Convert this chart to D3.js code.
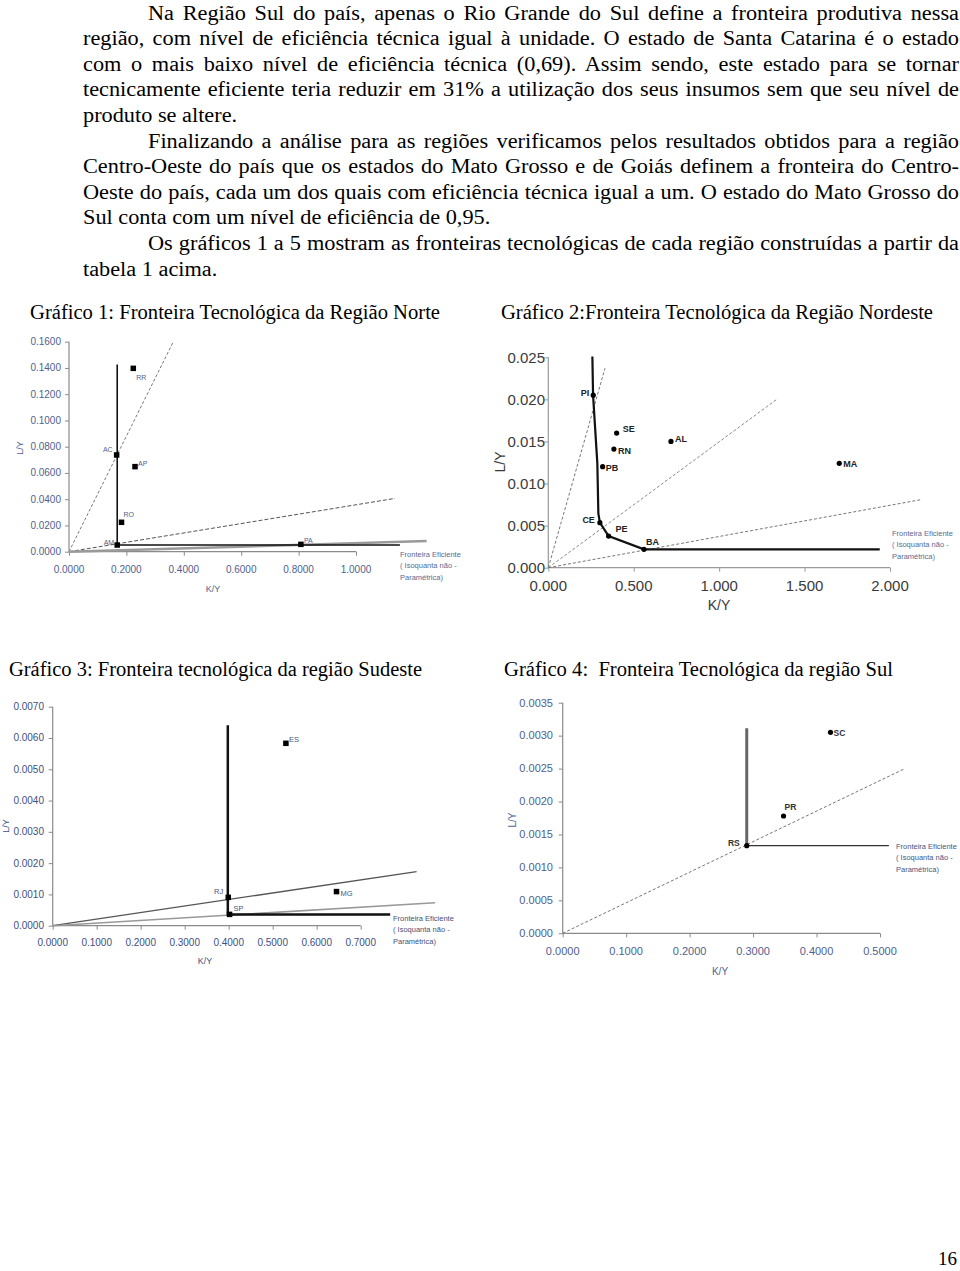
<!DOCTYPE html>
<html>
<head>
<meta charset="utf-8">
<script src="https://cdn.jsdelivr.net/npm/d3@7"></script>
<style>
  body { margin: 0; background: #fff; }
  svg { display: block; }
</style>
</head>
<body>
<svg id="page" width="960" height="1271"></svg>
<script>
// ---- texto da página ----
const paragraphLines = [
  "Na Região Sul do país, apenas o Rio Grande do Sul define a fronteira produtiva nessa",
  "região, com nível de eficiência técnica igual à unidade. O estado de Santa Catarina é o estado",
  "com o mais baixo nível de eficiência técnica (0,69). Assim sendo, este estado para se tornar",
  "tecnicamente eficiente teria reduzir em 31% a utilização dos seus insumos sem que seu nível de",
  "produto se altere.",
  "Finalizando a análise para as regiões verificamos pelos resultados obtidos para a região",
  "Centro-Oeste do país que os estados do Mato Grosso e de Goiás definem a fronteira do Centro-",
  "Oeste do país, cada um dos quais com eficiência técnica igual a um. O estado do Mato Grosso do",
  "Sul conta com um nível de eficiência de 0,95.",
  "Os gráficos 1 a 5 mostram as fronteiras tecnológicas de cada região construídas a partir da",
  "tabela 1 acima."
];
const lineIndent  = [1, 0, 0, 0, 0, 1, 0, 0, 0, 1, 0];
const lineJustify = [1, 1, 1, 1, 0, 1, 1, 1, 0, 1, 0];
const captions = [
  "Gráfico 1: Fronteira Tecnológica da Região Norte",
  "Gráfico 2:Fronteira Tecnológica da Região Nordeste",
  "Gráfico 3: Fronteira tecnológica da região Sudeste",
  "Gráfico 4:  Fronteira Tecnológica da região Sul"
];
const legendLines = ["Fronteira Eficiente", "( Isoquanta não -", "Paramétrica)"];
const pageNumber = "16";

// ---- Gráfico 1: Norte ----
const norteUF = ["RR", "AC", "AP", "RO", "AM", "PA"];
const norteKY = [0.224, 0.166, 0.230, 0.183, 0.168, 0.808];
const norteLY = [0.1397, 0.0737, 0.0648, 0.0224, 0.0051, 0.0056];
const norteFronteiraKY = [0.168, 0.168, 1.153];
const norteFronteiraLY = [0.1427, 0.0051, 0.0051];
const norteRaioKY = [0.3635, 1.136, 1.246];
const norteRaioLY = [0.16, 0.0406, 0.0081];
const norteTicksX = [0, 0.2, 0.4, 0.6, 0.8, 1.0];
const norteTicksY = [0, 0.02, 0.04, 0.06, 0.08, 0.10, 0.12, 0.14, 0.16];

// ---- Gráfico 2: Nordeste ----
const nordesteUF = ["PI", "SE", "RN", "PB", "AL", "MA", "CE", "PE", "BA"];
const nordesteKY = [0.263, 0.400, 0.384, 0.318, 0.718, 1.703, 0.302, 0.353, 0.560];
const nordesteLY = [0.0205, 0.0160, 0.0141, 0.0120, 0.0150, 0.0124, 0.00535, 0.00376, 0.00218];
const nordesteFronteiraKY = [0.258, 0.262, 0.287, 0.293, 0.302, 0.353, 0.560, 1.940];
const nordesteFronteiraLY = [0.0251, 0.0205, 0.0124, 0.00646, 0.00535, 0.00376, 0.00218, 0.00218];
const nordesteRaioKY = [0.332, 1.337, 2.185];
const nordesteRaioLY = [0.0237, 0.0200, 0.0081];
const nordesteTicksX = [0, 0.5, 1.0, 1.5, 2.0];
const nordesteTicksY = [0, 0.005, 0.010, 0.015, 0.020, 0.025];

// ---- Gráfico 3: Sudeste ----
const sudesteUF = ["ES", "RJ", "SP", "MG"];
const sudesteKY = [0.530, 0.399, 0.402, 0.645];
const sudesteLY = [0.00583, 0.000906, 0.000362, 0.00109];
const sudesteFronteiraKY = [0.398, 0.398, 0.767];
const sudesteFronteiraLY = [0.00641, 0.000362, 0.000362];
const sudesteRaioKY = [0.827, 0.869];
const sudesteRaioLY = [0.00173, 0.000735];
const sudesteTicksX = [0, 0.1, 0.2, 0.3, 0.4, 0.5, 0.6, 0.7];
const sudesteTicksY = [0, 0.001, 0.002, 0.003, 0.004, 0.005, 0.006, 0.007];

// ---- Gráfico 4: Sul ----
const sulUF = ["SC", "PR", "RS"];
const sulKY = [0.422, 0.348, 0.290];
const sulLY = [0.00305, 0.00178, 0.00133];
const sulFronteiraKY = [0.290, 0.290, 0.514];
const sulFronteiraLY = [0.00311, 0.00133, 0.00133];
const sulRaioKY = [0.537];
const sulRaioLY = [0.00249];
const sulTicksX = [0, 0.1, 0.2, 0.3, 0.4, 0.5];
const sulTicksY = [0, 0.0005, 0.001, 0.0015, 0.002, 0.0025, 0.003, 0.0035];

const svg = d3.select("#page");
svg.append("rect").attr("width", 960).attr("height", 1271).attr("fill", "#fff");

const serif = "'Liberation Serif', 'Times New Roman', serif";
const sansNarrow = "'Liberation Sans Narrow', 'Liberation Sans', Arial, sans-serif";

// ---- texto justificado (fonte levemente alargada como no original) ----
const textG = svg.append("g")
    .style("font-family", serif)
    .style("font-size", "20px")
    .attr("fill", "#000");
const sx = 1.115;

paragraphLines.forEach((line, i) => {
    const x0 = lineIndent[i] ? 148 : 83;
    const t = textG.append("text")
        .attr("transform", `translate(${x0},${19.5 + i * 25.6}) scale(${sx},1)`)
        .text(line);
    if (lineJustify[i]) {
        const natural = t.node().getComputedTextLength();
        const spaces = line.split(" ").length - 1;
        const ws = ((959 - x0) / sx - natural) / spaces;
        t.attr("word-spacing", ws);
    }
});

const charts = [
  {
    caption: captions[0], capX: 30, capY: 318.5, capW: 410,
    uf: norteUF, kx: norteKY, ly: norteLY,
    fk: norteFronteiraKY, fl: norteFronteiraLY,
    rk: norteRaioKY, rl: norteRaioLY,
    tx: norteTicksX, ty: norteTicksY, fmt: ".4f",
    xRange: [69, 356], yRange: [551.7, 341.7],
    xDomain: [0, 1.0], yDomain: [0, 0.16],
    tickFont: 10, tickColor: "#4f5f8f", axisColor: "#8a8a8a",
    xLabY: 569, yLabX: 61,
    lyPos: [20, 448], kyPos: [213, 589],
    legend: [400, 554], legendColor: "#5a6a94",
    marker: "square", markerSize: 5.5,
    ptFont: 7, ptColor: "#55608a", ptBold: false,
    labelOff: {RR: [3, 9, "start"], AC: [-4, -5, "end"], AP: [3, -3, "start"], RO: [2, -8, "start"], AM: [-3, -2, "end"], PA: [3, -4, "start"]},
    rayStyle: [["#7a7a7a", 1, "3,2"], ["#555", 1, "4,2"], ["#9a9a9a", 2.5, null]],
    frontW: 1.6, frontColor: "#111"
  },
  {
    caption: captions[1], capX: 501, capY: 318.5, capW: 432,
    uf: nordesteUF, kx: nordesteKY, ly: nordesteLY,
    fk: nordesteFronteiraKY, fl: nordesteFronteiraLY,
    rk: nordesteRaioKY, rl: nordesteRaioLY,
    tx: nordesteTicksX, ty: nordesteTicksY, fmt: ".3f",
    xRange: [548.3, 890], yRange: [567.7, 357.3],
    xDomain: [0, 2.0], yDomain: [0, 0.025],
    tickFont: 15, tickColor: "#3a3a3a", axisColor: "#9a9a9a",
    xLabY: 586, yLabX: 545,
    lyPos: [500, 462], kyPos: [719, 605],
    legend: [892, 533], legendColor: "#5a6a94",
    marker: "circle", markerSize: 2.6,
    ptFont: 9, ptColor: "#222", ptBold: true,
    labelOff: {PI: [-4, -2, "end"], SE: [6, -4, "start"], RN: [4, 2, "start"], PB: [3, 1, "start"], AL: [4, -3, "start"], MA: [4, 1, "start"], CE: [-5, -3, "end"], PE: [7, -7, "start"], BA: [2, -8, "start"]},
    rayStyle: [["#777", 1, "3,2"], ["#888", 1, "3,2"], ["#777", 1, "3,2"]],
    frontW: 2.2, frontColor: "#111"
  },
  {
    caption: captions[2], capX: 9, capY: 676, capW: 413,
    uf: sudesteUF, kx: sudesteKY, ly: sudesteLY,
    fk: sudesteFronteiraKY, fl: sudesteFronteiraLY,
    rk: sudesteRaioKY, rl: sudesteRaioLY,
    tx: sudesteTicksX, ty: sudesteTicksY, fmt: ".4f",
    xRange: [52.7, 360.7], yRange: [925.7, 706.7],
    xDomain: [0, 0.7], yDomain: [0, 0.007],
    tickFont: 10, tickColor: "#3f4f7f", axisColor: "#8a8a8a",
    xLabY: 942, yLabX: 44,
    lyPos: [6, 826], kyPos: [205, 961],
    legend: [393, 918], legendColor: "#44507a",
    marker: "square", markerSize: 5.5,
    ptFont: 7.5, ptColor: "#4a5580", ptBold: false,
    labelOff: {ES: [3, -4, "start"], RJ: [-5, -6, "end"], SP: [4, -6, "start"], MG: [4, 2, "start"]},
    rayStyle: [["#555", 1.3, null], ["#999", 1.6, null]],
    frontW: 2.5, frontColor: "#111"
  },
  {
    caption: captions[3], capX: 504, capY: 676, capW: 389,
    uf: sulUF, kx: sulKY, ly: sulLY,
    fk: sulFronteiraKY, fl: sulFronteiraLY,
    rk: sulRaioKY, rl: sulRaioLY,
    tx: sulTicksX, ty: sulTicksY, fmt: ".4f",
    xRange: [562.7, 880], yRange: [933.3, 702.7],
    xDomain: [0, 0.5], yDomain: [0, 0.0035],
    tickFont: 11, tickColor: "#4f5f8f", axisColor: "#8a8a8a",
    xLabY: 951, yLabX: 553,
    lyPos: [512, 820], kyPos: [720, 971],
    legend: [896, 846], legendColor: "#4a5580",
    marker: "circle", markerSize: 2.6,
    ptFont: 8.5, ptColor: "#333", ptBold: true,
    labelOff: {SC: [3, 1, "start"], PR: [1, -9, "start"], RS: [-7, -3, "end"]},
    rayStyle: [["#777", 1, "3,2"]],
    frontW: 1.2, frontColor: "#333"
  }
];

function drawChart(c) {
    const x = d3.scaleLinear().domain(c.xDomain).range(c.xRange);
    const y = d3.scaleLinear().domain(c.yDomain).range(c.yRange);
    const g = svg.append("g");
    const fmt = d3.format(c.fmt);

    // título do gráfico, ajustado à largura do original
    g.append("text")
        .attr("x", c.capX).attr("y", c.capY)
        .attr("textLength", c.capW)
        .attr("lengthAdjust", "spacingAndGlyphs")
        .style("font-family", serif)
        .style("font-size", "20px")
        .style("white-space", "pre")
        .text(c.caption);

    // eixos
    const xAxis = d3.axisBottom(x).tickValues(c.tx).tickSize(4).tickFormat("");
    const yAxis = d3.axisLeft(y).tickValues(c.ty).tickSize(4).tickFormat("");
    const gx = g.append("g").attr("transform", `translate(0,${c.yRange[0]})`).call(xAxis);
    const gy = g.append("g").attr("transform", `translate(${c.xRange[0]},0)`).call(yAxis);
    [gx, gy].forEach(a => {
        a.select(".domain").attr("stroke", c.axisColor).attr("stroke-width", 1.2);
        a.selectAll(".tick line").attr("stroke", c.axisColor);
    });
    gx.select(".domain").attr("d", `M${c.xRange[0]},0H${c.xRange[1]}`);
    gy.select(".domain").attr("d", `M0,${c.yRange[0]}V${c.yRange[1]}`);

    g.selectAll(".xtl").data(c.tx).enter().append("text")
        .attr("x", d => x(d)).attr("y", c.xLabY).attr("dy", "0.35em")
        .attr("text-anchor", "middle")
        .style("font-family", sansNarrow).style("font-size", c.tickFont + "px")
        .attr("fill", c.tickColor).text(d => fmt(d));
    g.selectAll(".ytl").data(c.ty).enter().append("text")
        .attr("x", c.yLabX).attr("y", d => y(d)).attr("dy", "0.35em")
        .attr("text-anchor", "end")
        .style("font-family", sansNarrow).style("font-size", c.tickFont + "px")
        .attr("fill", c.tickColor).text(d => fmt(d));

    g.append("text")
        .attr("transform", `translate(${c.lyPos[0]},${c.lyPos[1]}) rotate(-90)`)
        .attr("text-anchor", "middle").attr("dy", "0.35em")
        .style("font-family", sansNarrow).style("font-size", (c.tickFont - 1) + "px")
        .attr("fill", c.tickColor).text("L/Y");
    g.append("text")
        .attr("x", c.kyPos[0]).attr("y", c.kyPos[1]).attr("dy", "0.35em")
        .attr("text-anchor", "middle")
        .style("font-family", sansNarrow).style("font-size", (c.tickFont - 1) + "px")
        .attr("fill", c.tickColor).text("K/Y");

    // raios a partir da origem
    c.rk.forEach((k, i) => {
        const st = c.rayStyle[i];
        g.append("line")
            .attr("x1", x(0)).attr("y1", y(0))
            .attr("x2", x(k)).attr("y2", y(c.rl[i]))
            .attr("stroke", st[0]).attr("stroke-width", st[1])
            .attr("stroke-dasharray", st[2]);
    });

    // fronteira eficiente
    const line = d3.line().x(d => x(d[0])).y(d => y(d[1]));
    g.append("path")
        .datum(c.fk.map((k, i) => [k, c.fl[i]]))
        .attr("d", line)
        .attr("fill", "none")
        .attr("stroke", c.frontColor)
        .attr("stroke-width", c.frontW);

    if (c === charts[3]) {
        // trecho vertical mais grosso e cinza no gráfico Sul
        g.append("line")
            .attr("x1", x(c.fk[0])).attr("y1", y(c.fl[0]))
            .attr("x2", x(c.fk[1])).attr("y2", y(c.fl[1]))
            .attr("stroke", "#666").attr("stroke-width", 3);
    }

    // legenda
    legendLines.forEach((t, i) => {
        g.append("text")
            .attr("x", c.legend[0]).attr("y", c.legend[1] + i * 11.5).attr("dy", "0.35em")
            .style("font-family", sansNarrow).style("font-size", "7.5px")
            .attr("fill", c.legendColor).text(t);
    });

    // pontos
    const pts = c.uf.map((u, i) => ({uf: u, k: c.kx[i], l: c.ly[i]}));
    if (c.marker === "square") {
        g.selectAll(".pt").data(pts).enter().append("rect")
            .attr("x", d => x(d.k) - c.markerSize / 2)
            .attr("y", d => y(d.l) - c.markerSize / 2)
            .attr("width", c.markerSize).attr("height", c.markerSize)
            .attr("fill", "#000");
    } else {
        g.selectAll(".pt").data(pts).enter().append("circle")
            .attr("cx", d => x(d.k)).attr("cy", d => y(d.l))
            .attr("r", c.markerSize).attr("fill", "#000");
    }
    g.selectAll(".ptl").data(pts).enter().append("text")
        .attr("x", d => x(d.k) + c.labelOff[d.uf][0])
        .attr("y", d => y(d.l) + c.labelOff[d.uf][1])
        .attr("dy", "0.35em")
        .attr("text-anchor", d => c.labelOff[d.uf][2])
        .style("font-family", sansNarrow)
        .style("font-size", c.ptFont + "px")
        .style("font-weight", c.ptBold ? "bold" : "normal")
        .attr("fill", c.ptColor)
        .text(d => d.uf);
}

charts.forEach(drawChart);

svg.append("text")
    .attr("x", 957).attr("y", 1265)
    .attr("text-anchor", "end")
    .style("font-family", serif)
    .style("font-size", "19px")
    .text(pageNumber);
</script>
</body>
</html>
